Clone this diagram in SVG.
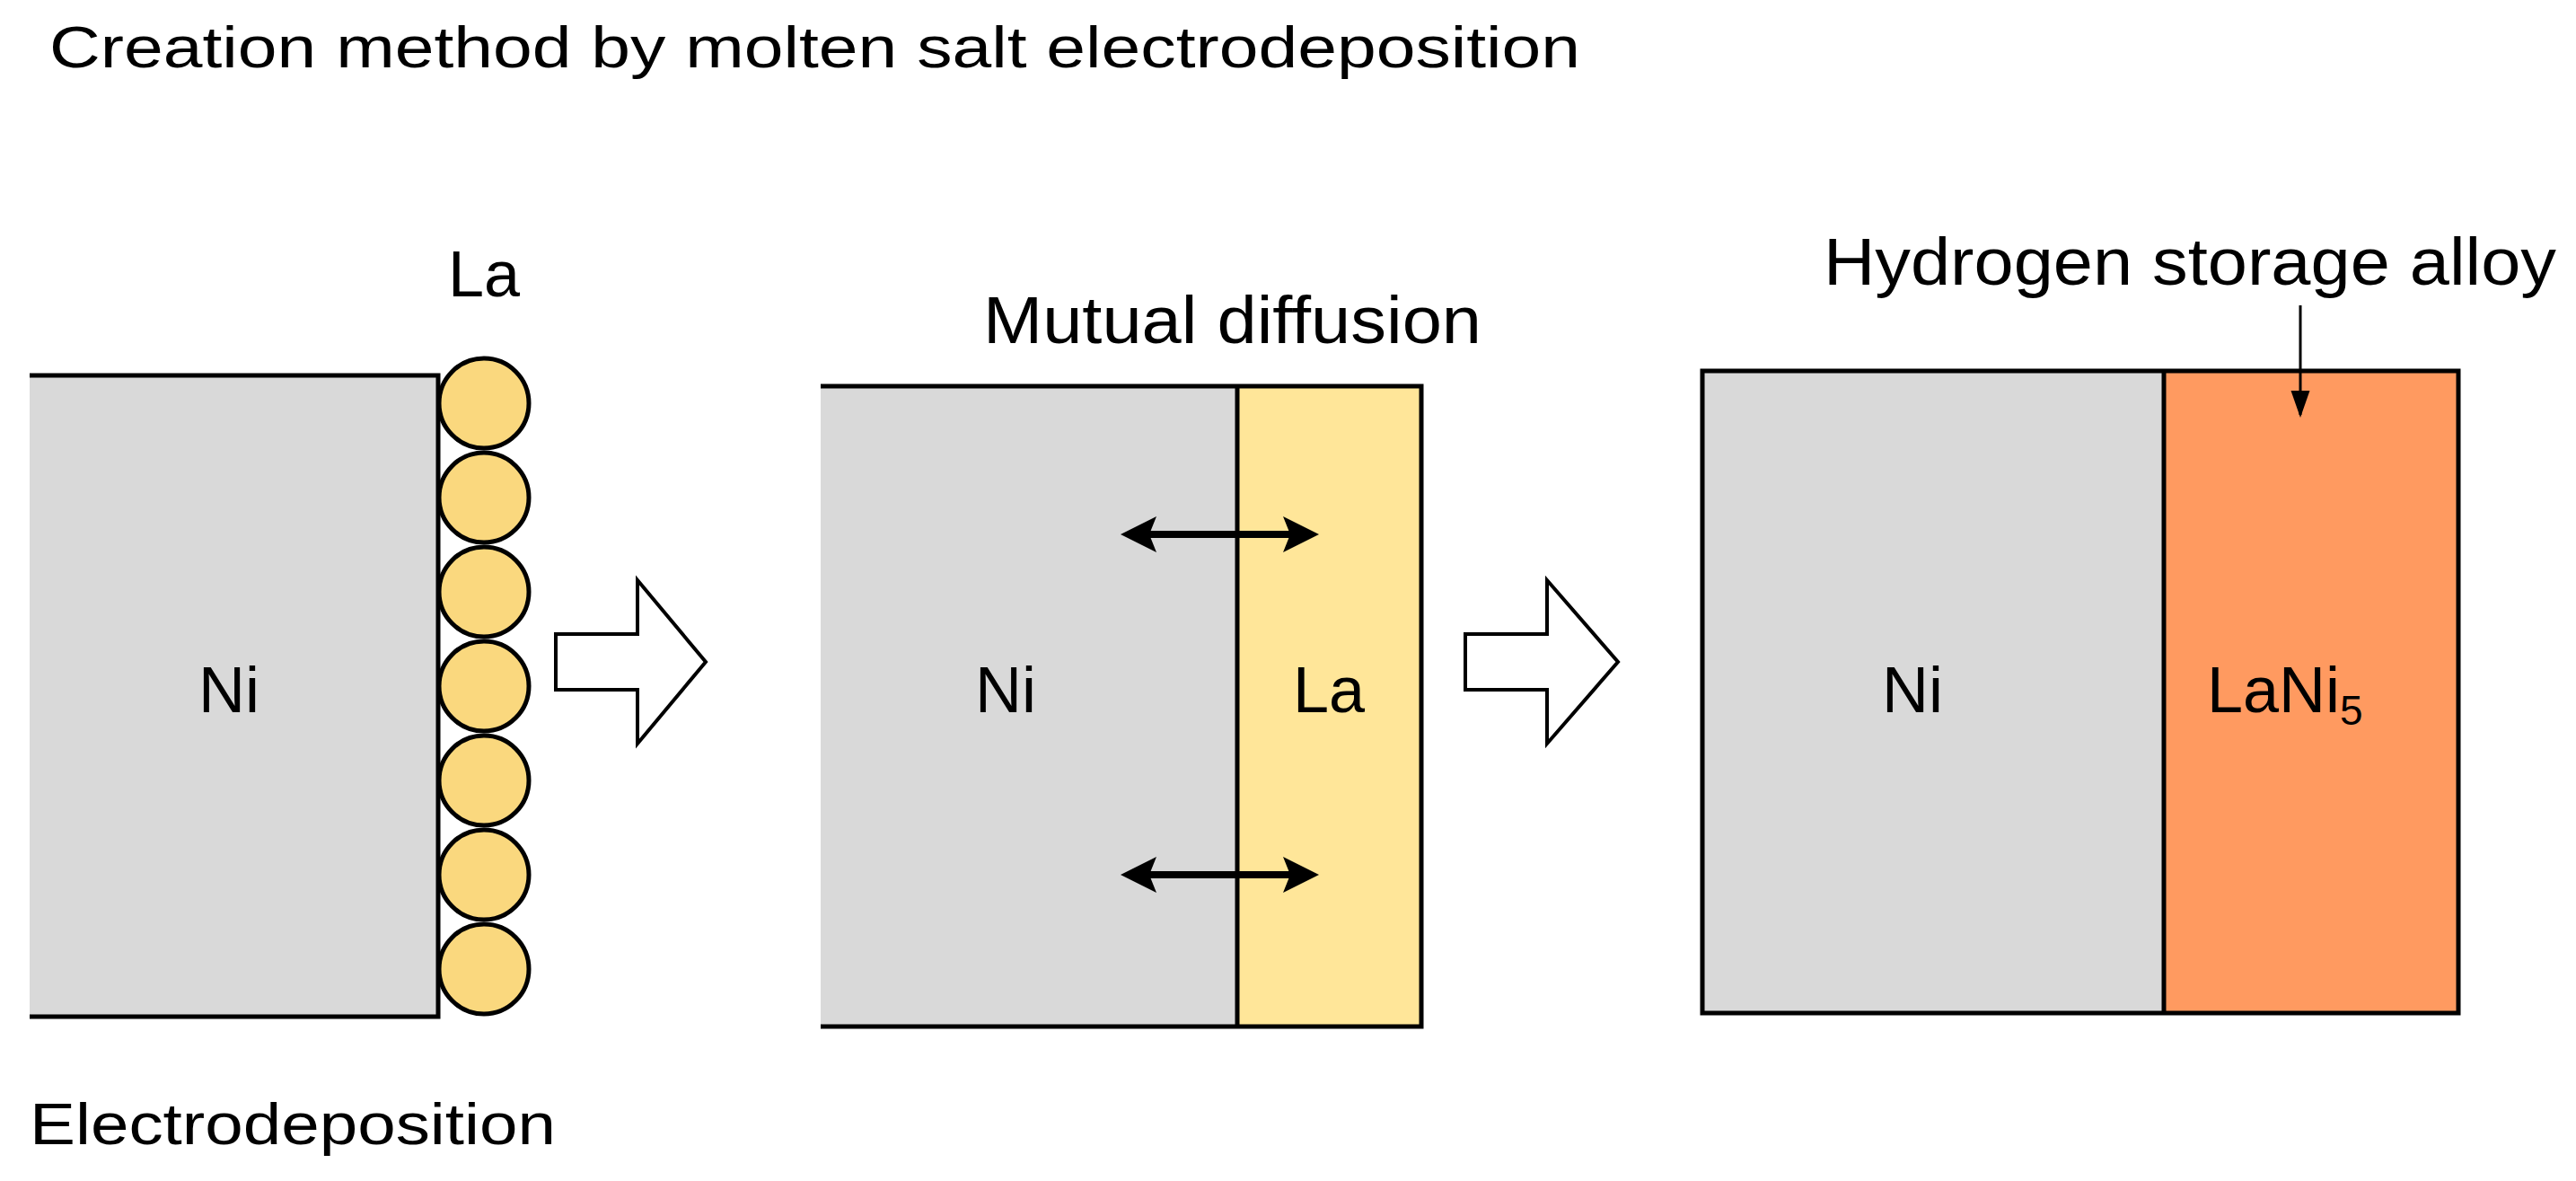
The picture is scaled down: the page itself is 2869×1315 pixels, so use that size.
<svg xmlns="http://www.w3.org/2000/svg" width="2869" height="1315" viewBox="0 0 2869 1315">
<style>
text{font-family:"Liberation Sans",Arial,sans-serif;fill:#000}
.b{stroke:#000;stroke-width:5}
.g{fill:#d9d9d9}
.dbl{stroke:#000;stroke-width:8;fill:none;marker-start:url(#ah);marker-end:url(#ah)}
</style>
<defs>
<marker id="ah" viewBox="0 0 10 10" refX="8" refY="5" markerWidth="5" markerHeight="6" orient="auto-start-reverse"><path d="M0,0 L10,5 L0,10 L2,5 Z" fill="#000"/></marker>
<marker id="ah2" viewBox="0 0 10 10" refX="9" refY="5" markerWidth="10" markerHeight="10" orient="auto"><path d="M0,1.5 L10,5 L0,8.5 Z" fill="#000"/></marker>
</defs>
<rect width="2869" height="1315" fill="#fff"/>
<text x="55" y="75" font-size="64" textLength="1705" lengthAdjust="spacingAndGlyphs">Creation method by molten salt electrodeposition</text>

<g id="stage1">
<rect x="33" y="418" width="455" height="714" class="g"/>
<path d="M33,418 H488 V1132 H33" fill="none" class="b"/>
<g fill="#fad87e" class="b">
<circle cx="539" cy="449" r="50"/><circle cx="539" cy="554" r="50"/><circle cx="539" cy="659" r="50"/><circle cx="539" cy="764" r="50"/><circle cx="539" cy="869" r="50"/><circle cx="539" cy="974" r="50"/><circle cx="539" cy="1079" r="50"/>
</g>
<text x="539" y="330" font-size="72" text-anchor="middle">La</text>
<text x="255" y="793" font-size="72" text-anchor="middle">Ni</text>
<text x="33" y="1274" font-size="64" textLength="586" lengthAdjust="spacingAndGlyphs">Electrodeposition</text>
</g>

<g id="stage2">
<rect x="914" y="430" width="464" height="713" class="g"/>
<rect x="1378" y="430" width="205" height="713" fill="#ffe699"/>
<path d="M914,430 H1583 V1143 H914 M1378,430 V1143" fill="none" class="b"/>
<text x="1120" y="793" font-size="72" text-anchor="middle">Ni</text>
<text x="1480" y="793" font-size="72" text-anchor="middle">La</text>
<text x="1095" y="382" font-size="74" textLength="555" lengthAdjust="spacingAndGlyphs">Mutual diffusion</text>
</g>

<g id="stage3">
<rect x="1896" y="413" width="514" height="715" class="g"/>
<rect x="2410" y="413" width="328" height="715" fill="#ff9a60"/>
<path d="M1896,413 H2738 V1128 H1896 Z M2410,413 V1128" fill="none" class="b"/>
<text x="2130" y="793" font-size="72" text-anchor="middle">Ni</text>
<text x="2458" y="793" font-size="72">LaNi<tspan font-size="46" dy="14">5</tspan></text>
<text x="2031" y="317" font-size="74" textLength="816" lengthAdjust="spacingAndGlyphs">Hydrogen storage alloy</text>
</g>

<g id="connectors">
<path d="M619,706 H710 V646 L786,737 L710,828 V768 H619 Z" fill="#fff" stroke="#000" stroke-width="4"/>
<path d="M1632,706 H1723 V646 L1802,737 L1723,828 V768 H1632 Z" fill="#fff" stroke="#000" stroke-width="4"/>
<line x1="1256" y1="595" x2="1461" y2="595" class="dbl"/>
<line x1="1256" y1="974" x2="1461" y2="974" class="dbl"/>
<line x1="2562" y1="340" x2="2562" y2="462" stroke="#000" stroke-width="3" marker-end="url(#ah2)"/>
</g>
</svg>
